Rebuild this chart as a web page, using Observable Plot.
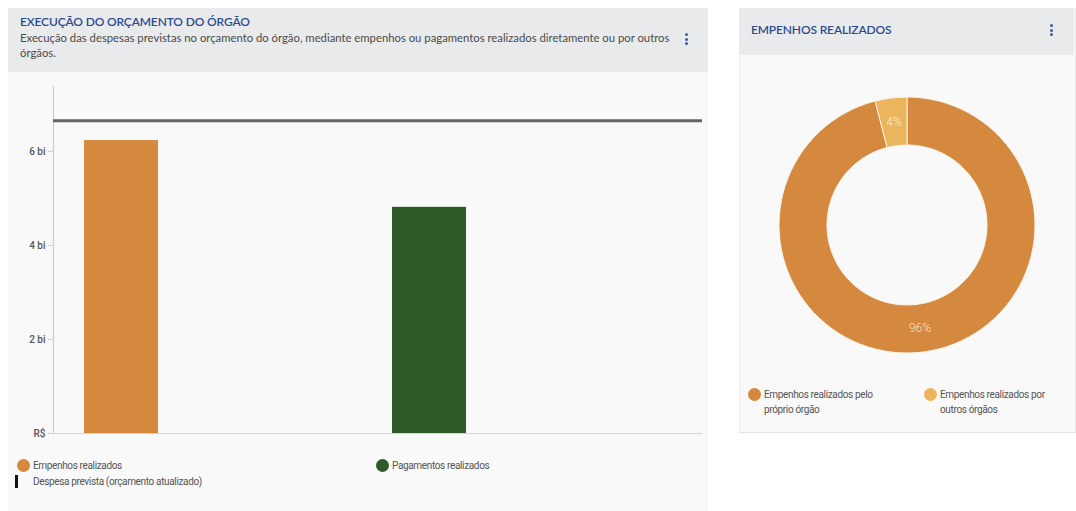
<!DOCTYPE html>
<html>
<head>
<meta charset="utf-8">
<script src="https://cdn.jsdelivr.net/npm/d3@7"></script>
<script src="https://cdn.jsdelivr.net/npm/@observablehq/plot@0.6"></script>
<style>
  html, body { margin:0; padding:0; background:#ffffff; width:1076px; height:511px; overflow:hidden; font-family: Lato, "Open Sans", sans-serif; }
  .card { position:absolute; background:#f9f9f9; }
  .head { position:absolute; background:#e9eaec; }
  .title { position:absolute; color:#2d4b8c; font-size:12px; font-weight:600; letter-spacing:-0.15px; white-space:nowrap; }
  .sub { position:absolute; color:#4a4a4a; font-size:11.3px; line-height:15px; white-space:nowrap; }
  .kebab { position:absolute; width:3px; }
  .kebab i { display:block; width:3px; height:3px; border-radius:50%; background:#3a5a9e; margin-bottom:1.5px; }
  .leg { position:absolute; font-family: Roboto, sans-serif; font-size:10px; color:#555; letter-spacing:-0.35px; line-height:15px; white-space:nowrap; }
  .dot { position:absolute; width:13px; height:13px; border-radius:50%; }
  #bars, #donut { position:absolute; }
</style>
</head>
<body>
<div class="card" style="left:8px; top:8px; width:700px; height:503px;"></div>
<div class="head" style="left:8px; top:8px; width:700px; height:64px;"></div>
<div class="title" style="left:20px; top:14px;">EXECUÇÃO DO ORÇAMENTO DO ÓRGÃO</div>
<div class="sub" style="left:20px; top:30px;">Execução das despesas previstas no orçamento do órgão, mediante empenhos ou pagamentos realizados diretamente ou por outros<br>órgãos.</div>
<div class="kebab" style="left:685px; top:33px;"><i></i><i></i><i></i></div>

<div class="card" style="left:739px; top:8px; width:335px; height:424px; border-bottom:1px solid #e2e2e2; border-left:1px solid #ececec; border-right:1px solid #ececec;"></div>
<div class="head" style="left:739px; top:8px; width:335px; height:47px;"></div>
<div class="title" style="left:751px; top:22px;">EMPENHOS REALIZADOS</div>
<div class="kebab" style="left:1050px; top:24px;"><i></i><i></i><i></i></div>

<div id="bars" style="left:8px; top:72px;"></div>
<div id="donut" style="left:740px; top:55px;"></div>

<div id="legLeft"></div>
<div id="legRight"></div>

<script>
// ---- Data ----
const categories = ["Empenhos realizados", "Pagamentos realizados"];
const values = [6.23e9, 4.81e9];
const budgetLabel = "Despesa prevista (orçamento atualizado)";
const budget = 6.65e9;
const barColors = ["#d4893f", "#2e5a27"];
const yTicks = [0, 2e9, 4e9, 6e9];
const yTickLabels = ["R$", "2 bi", "4 bi", "6 bi"];
const yMax = 7.38e9;

const donutLabels = ["Empenhos realizados pelo próprio órgão", "Empenhos realizados por outros órgãos"];
const donutLegendLines = [["Empenhos realizados pelo", "próprio órgão"], ["Empenhos realizados por", "outros órgãos"]];
const donutShares = [96, 4];
const donutColors = ["#d4893f", "#ebb55e"];

// ---- Bar chart ----
const barData = categories.map((c, i) => ({name: c, value: values[i]}));
const bars = Plot.plot({
  width: 700, height: 380,
  marginLeft: 45, marginRight: 6, marginTop: 14, marginBottom: 19,
  style: {background: "transparent", fontFamily: "Roboto, sans-serif"},
  x: {type: "band", domain: categories, range: [45, 489], paddingInner: 0.76, paddingOuter: 0.1, axis: null},
  y: {domain: [0, yMax], axis: null, label: null},
  color: {domain: categories, range: barColors},
  marks: [
    (index, scales, values, dims) => {
      const x = dims.marginLeft + 0.5;
      return d3.create("svg:line")
        .attr("x1", x).attr("x2", x)
        .attr("y1", scales.y(0)).attr("y2", scales.y(yMax))
        .attr("stroke", "#cfcfcf").attr("stroke-width", 1.2).node();
    },
    Plot.axisY({ticks: yTicks, tickSize: 5, tickPadding: 3, stroke: "#cfcfcf", label: null,
      tickFormat: d => yTickLabels[yTicks.indexOf(d)], fontSize: 10, fill: "#555", fontWeight: 500}),
    Plot.barY(barData, {x: "name", y: "value", fill: "name"}),
    Plot.ruleY([0], {stroke: "#d4d4d4", strokeWidth: 1.2}),
    Plot.ruleY([budget], {stroke: "#666666", strokeWidth: 3})
  ]
});
document.getElementById("bars").appendChild(bars);

// ---- Donut ----
const donutData = donutLabels.map((l, i) => ({label: l, value: donutShares[i]}));
const donutColor = Plot.scale({color: {type: "ordinal", domain: donutLabels, range: donutColors}});
const donut = Plot.plot({
  width: 334, height: 310, margin: 0,
  style: {background: "transparent"},
  marks: [
    () => {
      const g = d3.create("svg:g").attr("transform", "translate(167,170)");
      const pie = d3.pie().sort(null).value(d => d.value)(donutData);
      const arc = d3.arc().innerRadius(80).outerRadius(128);
      const labelArc = d3.arc().innerRadius(104).outerRadius(104);
      g.selectAll("path").data(pie).join("path")
        .attr("d", arc)
        .attr("fill", d => donutColor.apply(d.data.label))
        .attr("stroke", "#fbf3e8").attr("stroke-width", 1);
      g.selectAll("text").data(pie).join("text")
        .attr("transform", d => `translate(${labelArc.centroid(d)})`)
        .attr("text-anchor", "middle").attr("dy", "0.35em")
        .attr("fill", "#fff").attr("fill-opacity", 0.8)
        .attr("font-family", "Roboto, sans-serif").attr("font-size", 12).attr("font-weight", 300)
        .text(d => d.data.value + "%");
      return g.node();
    }
  ]
});
document.getElementById("donut").appendChild(donut);

// ---- Legends ----
const legLeft = document.getElementById("legLeft");
const leftPos = [[17, 459, 33, 459], [376, 459, 392, 459]];
categories.forEach((c, i) => {
  const [dx, dy, tx, ty] = leftPos[i];
  legLeft.insertAdjacentHTML("beforeend",
    `<div class="dot" style="left:${dx}px; top:${dy}px; background:${barColors[i]}"></div>` +
    `<div class="leg" style="left:${tx}px; top:${ty - 1}px">${c}</div>`);
});
legLeft.insertAdjacentHTML("beforeend",
  `<div style="position:absolute; left:15px; top:475px; width:3px; height:13px; background:#111"></div>` +
  `<div class="leg" style="left:33px; top:474px">${budgetLabel}</div>`);

const legRight = document.getElementById("legRight");
const rightPos = [[748, 388, 764], [924, 388, 940]];
donutLegendLines.forEach((lines, i) => {
  const [dx, dy, tx] = rightPos[i];
  legRight.insertAdjacentHTML("beforeend",
    `<div class="dot" style="left:${dx}px; top:${dy}px; background:${donutColors[i]}"></div>` +
    `<div class="leg" style="left:${tx}px; top:${dy - 1}px">${lines[0]}<br>${lines[1]}</div>`);
});
</script>
</body>
</html>
